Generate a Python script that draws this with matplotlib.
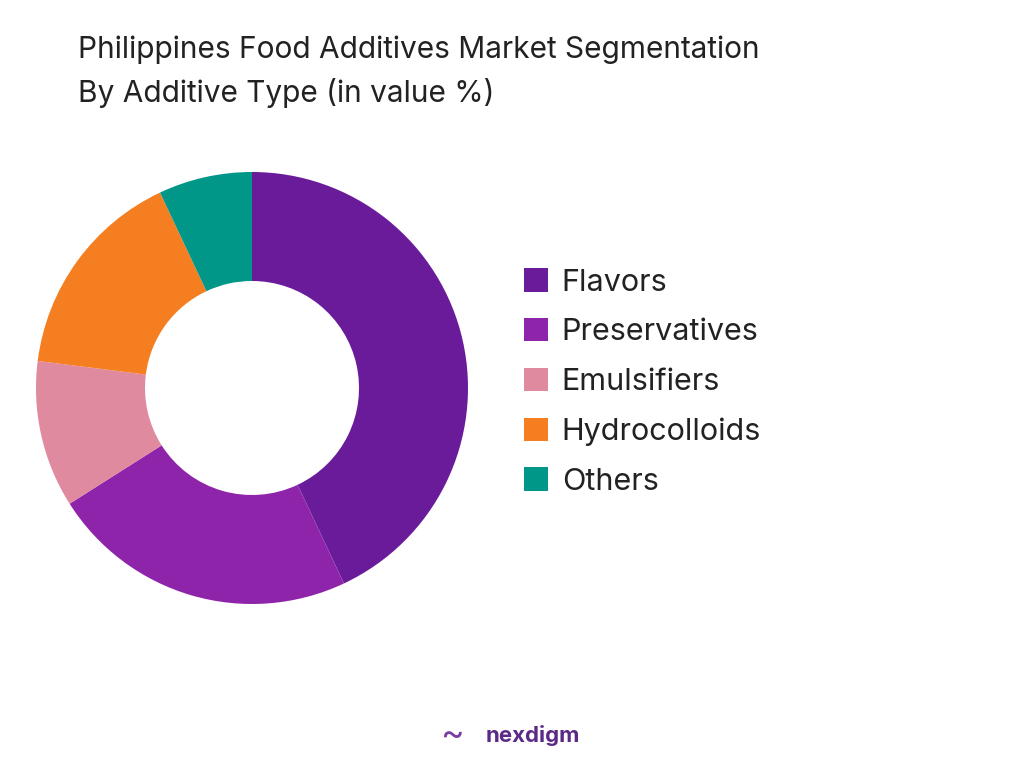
import matplotlib
matplotlib.use("Agg")
import matplotlib.pyplot as plt
from matplotlib.patches import Patch

plt.rcParams['font.family'] = ['Inter', 'DejaVu Sans']

labels = ['Flavors', 'Preservatives', 'Emulsifiers', 'Hydrocolloids', 'Others']
values = [43, 23, 11, 16, 7]
colors = ['#6A1B9A', '#8E24AA', '#E08AA0', '#F57F20', '#009688']

fig = plt.figure(figsize=(10.24, 7.68), dpi=100)

ax = fig.add_axes([(252 - 216) / 1024, 1 - (388 + 216) / 768, 432 / 1024, 432 / 768])
ax.pie(values, colors=colors, startangle=90, counterclock=False,
       wedgeprops=dict(width=109 / 216, edgecolor='none'))
ax.set_xlim(-1, 1)
ax.set_ylim(-1, 1)
ax.set_aspect('equal')

fig.text(78 / 1024, 1 - 50 / 768, 'Philippines Food Additives Market Segmentation',
         fontsize=21.5, color='#222222', va='center')
fig.text(78 / 1024, 1 - 93 / 768, 'By Additive Type (in value %)',
         fontsize=21.5, color='#222222', va='center')

handles = [Patch(facecolor=c, edgecolor='none') for c in colors]
fig.legend(handles, labels, loc='center left', bbox_to_anchor=(496 / 1024, 1 - 382 / 768),
           frameon=False, fontsize=22, handlelength=0.8, handleheight=0.8,
           handletextpad=0.45, labelspacing=0.7, labelcolor='#222222')

fig.text(440 / 1024, 1 - 735 / 768, '~', fontsize=26, color='#7B3FA0', va='center', ha='left')
fig.text(486 / 1024, 1 - 735 / 768, 'nexdigm', fontsize=16, color='#5B2A86',
         fontweight='bold', va='center', ha='left')

fig.savefig('out.png', dpi=100)
